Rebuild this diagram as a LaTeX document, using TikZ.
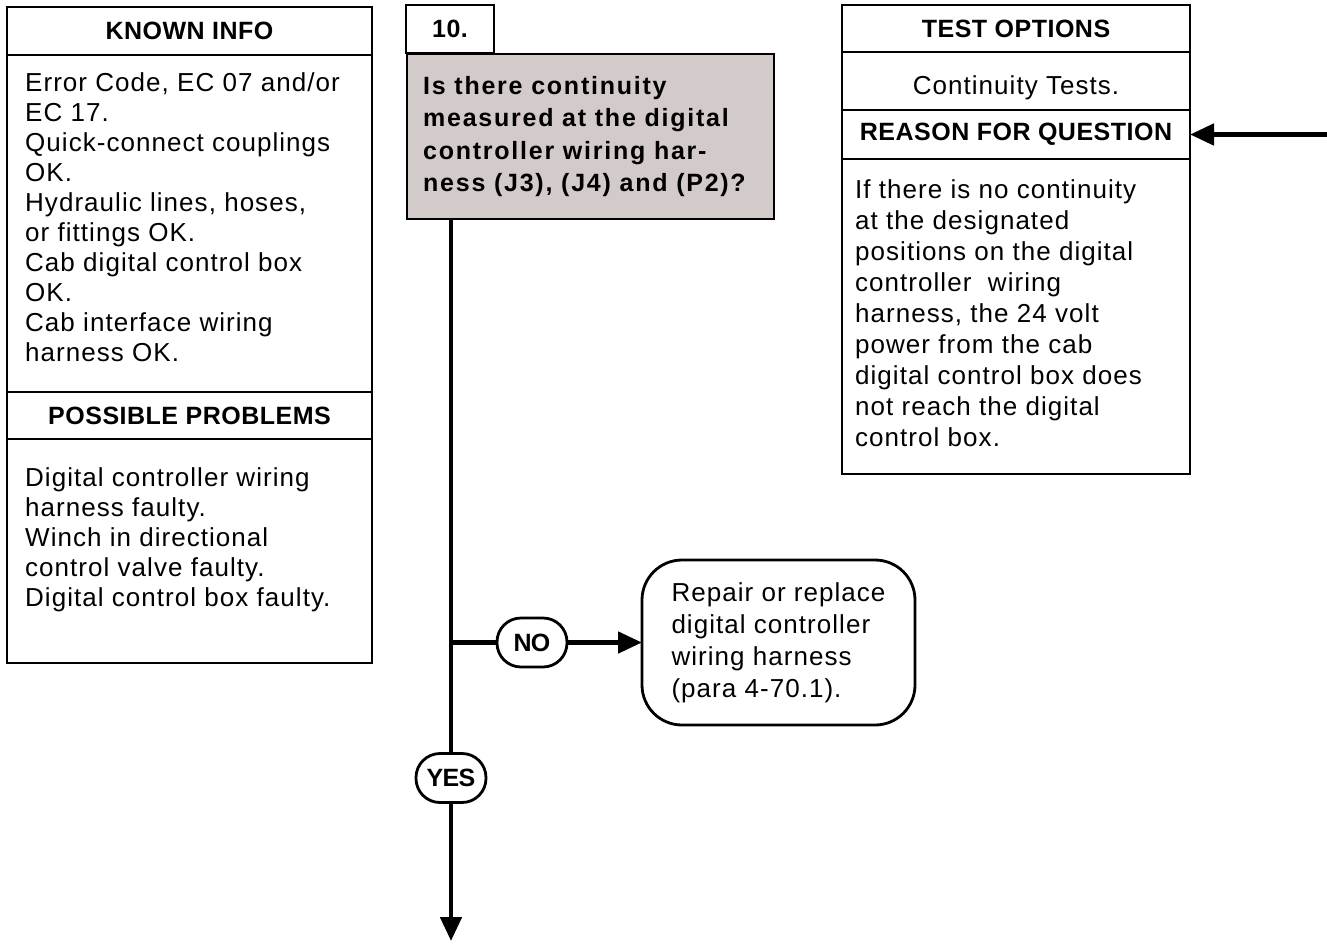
\documentclass[tikz,border=0pt]{standalone}
\usepackage{fontspec}
\setmainfont{Liberation Sans}[LetterSpace=4]
\usetikzlibrary{arrows.meta}
\definecolor{askgray}{RGB}{210,203,201}

\begin{document}
\begin{tikzpicture}[x=1pt,y=-1pt,
    >={Triangle[length=24pt,width=21pt]},
    boxframe/.style={draw,line width=2.8pt,rectangle,inner sep=0pt,
        outer sep=0pt,anchor=north west},
    headtext/.style={font={\fontsize{25}{30}\selectfont\bfseries
        \addfontfeature{LetterSpace=2}}},
    bodytext/.style={font={\fontsize{26}{30}\selectfont},inner sep=0pt,
        anchor=base west},
    asktext/.style={font={\fontsize{25}{32}\selectfont\bfseries
        \addfontfeature{LetterSpace=7}},inner sep=0pt,anchor=base west},
    flow/.style={line width=4.8pt},
    pill/.style={draw,line width=2.8pt,rounded corners=24pt,
        minimum width=70pt,minimum height=49pt,inner sep=0pt,
        outer sep=0pt,font={\fontsize{25}{30}\selectfont\bfseries
        \addfontfeature{LetterSpace=-3}}}]
    \useasboundingbox (0,0) rectangle (1327,943);

    % Known info and possible problems.
    \node[boxframe,minimum width=365pt,minimum height=48pt,headtext]
        (knownhead) at (7,7) {KNOWN INFO};
    \node[boxframe,minimum width=365pt,minimum height=337pt]
        (knownbody) at (knownhead.south west) {};
    \node[boxframe,minimum width=365pt,minimum height=47pt,headtext]
        (probhead) at (knownbody.south west) {POSSIBLE PROBLEMS};
    \node[boxframe,minimum width=365pt,minimum height=224pt]
        (probbody) at (probhead.south west) {};
    \foreach \entry [count=\i] in {{Error Code, EC 07 and/or},{EC 17.},
        {Quick-connect couplings},{OK.},{Hydraulic lines, hoses,},
        {or fittings OK.},{Cab digital control box},{OK.},
        {Cab interface wiring},{harness OK.}}
        \node[bodytext] (known\i) at (25,{91+30*(\i-1)}) {\entry};
    \foreach \entry [count=\i] in {{Digital controller wiring},
        {harness faulty.},{Winch in directional},
        {control valve faulty.},{Digital control box faulty.}}
        \node[bodytext] (prob\i) at (25,{486+30*(\i-1)}) {\entry};

    % Question 10.
    \node[boxframe,minimum width=88pt,minimum height=48pt,headtext]
        (stepno) at (406,5) {10.};
    \node[boxframe,fill=askgray,minimum width=367pt,minimum height=165pt]
        (ask) at (407,54) {};
    \foreach \entry [count=\i] in {{Is there continuity},
        {measured at the digital},{controller wiring har-},
        {ness (J3), (J4) and (P2)?}}
        \node[asktext] (ask\i) at (423,{94+32.6*(\i-1)}) {\entry};

    % Test options and reason for question.
    \node[boxframe,minimum width=348pt,minimum height=47pt,headtext]
        (testhead) at (842,5) {TEST OPTIONS};
    \node[boxframe,minimum width=348pt,minimum height=58pt]
        (testbody) at (testhead.south west) {};
    \node[bodytext,anchor=base] (testtxt) at (1016,94) {Continuity Tests.};
    \node[boxframe,minimum width=348pt,minimum height=49pt,headtext]
        (reasonhead) at (testbody.south west) {REASON FOR QUESTION};
    \node[boxframe,minimum width=348pt,minimum height=315pt]
        (reasonbody) at (reasonhead.south west) {};
    \foreach \entry [count=\i] in {{If there is no continuity},
        {at the designated},{positions on the digital},
        {controller\ \ wiring},{harness, the 24 volt},
        {power from the cab},{digital control box does},
        {not reach the digital},{control box.}}
        \node[bodytext] (reason\i) at (855,{198+31*(\i-1)}) {\entry};

    % Outcomes.
    \node[pill] (no) at (532,642.5) {NO};
    \node[pill] (yes) at (451,778) {YES};
    \node[draw,line width=2.8pt,rounded corners=40pt,minimum width=273pt,
        minimum height=165pt,outer sep=0pt,align=left,
        font={\fontsize{26}{32}\selectfont}] (repair) at (778.5,642.5)
        {Repair or replace\\digital controller\\wiring harness\\
        (para 4-70.1).};

    % Flow lines.
    \coordinate (stemend) at (451,941);
    \coordinate (feedin) at (1327,135);
    \draw[flow] (ask.south -| yes.north) -- (yes.north);
    \draw[flow,->] (yes.south) -- (stemend);
    \draw[flow] (yes.north |- no.west) -- (no.west);
    \draw[flow,->] (no.east) -- (repair.west |- no.east);
    \draw[flow,->] (feedin |- reasonhead.east) -- (reasonhead.east);
\end{tikzpicture}
\end{document}
